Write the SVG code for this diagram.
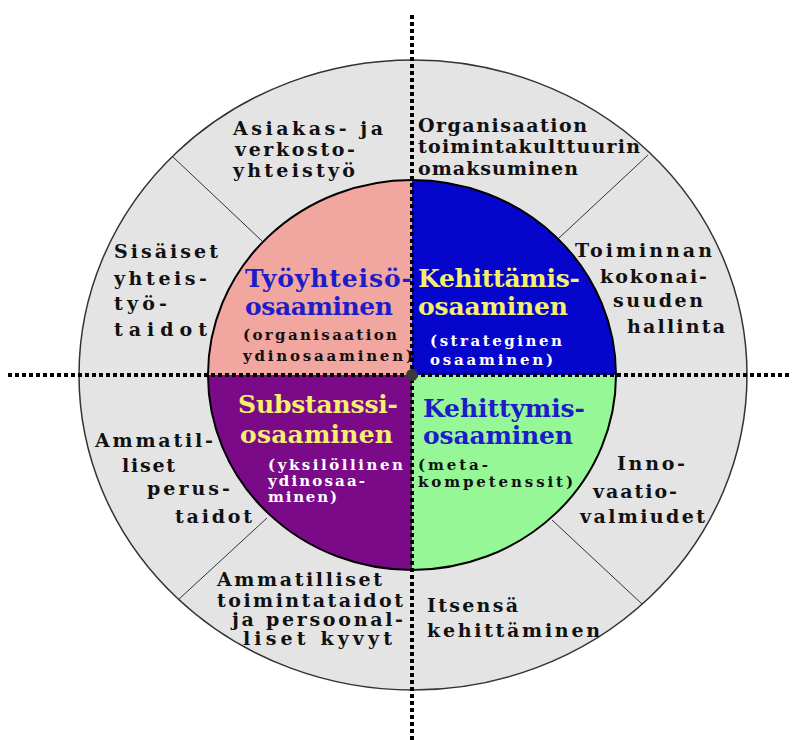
<svg xmlns="http://www.w3.org/2000/svg" width="798" height="740" viewBox="0 0 798 740">
<style>
text{font-family:"DejaVu Serif","Liberation Serif",serif;font-weight:bold}
.o{font-size:19px;fill:#111}
.h{font-size:25px}
.s{font-size:15px}
.bl{fill:#1c1cc8}
.ye{fill:#f4ef6c}
.wh{fill:#ffffff}
.bk{fill:#111}
.div{stroke:#333;stroke-width:1}
.axis{stroke:#000;stroke-width:4;stroke-dasharray:4 3;fill:none}
</style>
<rect width="798" height="740" fill="#ffffff"/>
<g id="ring">
<ellipse cx="413" cy="375" rx="334" ry="315" fill="#e4e4e4" stroke="#333" stroke-width="1.5"/>
<line class="div" x1="173" y1="157" x2="262" y2="241"/>
<line class="div" x1="648" y1="155" x2="559" y2="238"/>
<line class="div" x1="552" y1="520" x2="642" y2="604"/>
<line class="div" x1="267" y1="518" x2="178" y2="600"/>
</g>
<g id="tyoyhteiso">
<path d="M412,375 L208,375 A204,195 0 0 1 412,180 Z" fill="#f2a6a0"/>
<text class="h bl" x="245" y="287" textLength="167">Työyhteisö-</text>
<text class="h bl" x="245" y="315" textLength="148">osaaminen</text>
<text class="s bk" x="243" y="340" textLength="154">(organisaation</text>
<text class="s bk" x="243" y="361" textLength="170">ydinosaaminen)</text>
</g>
<g id="kehittamis">
<path d="M412,375 L412,180 A204,195 0 0 1 616,375 Z" fill="#0505cc"/>
<text class="h ye" x="418" y="287" textLength="162">Kehittämis-</text>
<text class="h ye" x="418" y="315" textLength="150">osaaminen</text>
<text class="s wh" x="430" y="346" textLength="132">(strateginen</text>
<text class="s wh" x="430" y="365" textLength="123">osaaminen)</text>
</g>
<g id="kehittymis">
<path d="M412,375 L616,375 A204,195 0 0 1 412,570 Z" fill="#96f796"/>
<text class="h bl" x="423" y="417" textLength="162">Kehittymis-</text>
<text class="h bl" x="423" y="444" textLength="150">osaaminen</text>
<text class="s bk" x="418" y="470" textLength="70">(meta-</text>
<text class="s bk" x="418" y="487" textLength="155">kompetenssit)</text>
</g>
<g id="substanssi">
<path d="M412,375 L412,570 A204,195 0 0 1 208,375 Z" fill="#7b0a88"/>
<text class="h ye" x="238" y="413" textLength="160">Substanssi-</text>
<text class="h ye" x="240" y="443" textLength="153">osaaminen</text>
<text class="s wh" x="268" y="470" textLength="135">(yksilöllinen</text>
<text class="s wh" x="268" y="486" textLength="97">ydinosaa-</text>
<text class="s wh" x="268" y="502" textLength="69">minen)</text>
</g>
<ellipse cx="412" cy="375" rx="204" ry="195" fill="none" stroke="#000" stroke-width="2"/>
<g id="asiakas">
<text class="o" x="233" y="135" textLength="150">Asiakas-  ja</text>
<text class="o" x="235" y="156" textLength="120">verkosto-</text>
<text class="o" x="233" y="177" textLength="122">yhteistyö</text>
</g>
<g id="organisaatio">
<text class="o" x="418" y="132" textLength="169">Organisaation</text>
<text class="o" x="418" y="153" textLength="222">toimintakulttuurin</text>
<text class="o" x="418" y="175" textLength="160">omaksuminen</text>
</g>
<g id="sisaiset">
<text class="o" x="114" y="258" textLength="104">Sisäiset</text>
<text class="o" x="114" y="285" textLength="93">yhteis-</text>
<text class="o" x="114" y="310" textLength="53">työ-</text>
<text class="o" x="114" y="336" textLength="93">taidot</text>
</g>
<g id="toiminnan">
<text class="o" x="575" y="257" textLength="137">Toiminnan</text>
<text class="o" x="600" y="283" textLength="107">kokonai-</text>
<text class="o" x="613" y="307" textLength="90">suuden</text>
<text class="o" x="627" y="333" textLength="98">hallinta</text>
</g>
<g id="perustaidot">
<text class="o" x="95" y="447" textLength="118">Ammatil-</text>
<text class="o" x="122" y="472" textLength="53">liset</text>
<text class="o" x="147" y="495" textLength="83">perus-</text>
<text class="o" x="175" y="523" textLength="77">taidot</text>
</g>
<g id="innovaatio">
<text class="o" x="617" y="470" textLength="68">Inno-</text>
<text class="o" x="593" y="498" textLength="84">vaatio-</text>
<text class="o" x="580" y="523" textLength="125">valmiudet</text>
</g>
<g id="toimintataidot">
<text class="o" x="217" y="586" textLength="165">Ammatilliset</text>
<text class="o" x="217" y="607" textLength="186">toimintataidot</text>
<text class="o" x="232" y="626" textLength="171">ja persoonal-</text>
<text class="o" x="243" y="645" textLength="149">liset kyvyt</text>
</g>
<g id="itsensa">
<text class="o" x="427" y="612" textLength="91">Itsensä</text>
<text class="o" x="427" y="637" textLength="173">kehittäminen</text>
</g>
<g id="connectors">
<line class="axis" x1="412" y1="15" x2="412" y2="740"/>
<line class="axis" x1="8" y1="375" x2="792" y2="375"/>
<circle cx="412" cy="375" r="6" fill="#3a3a3a"/>
</g>
</svg>
